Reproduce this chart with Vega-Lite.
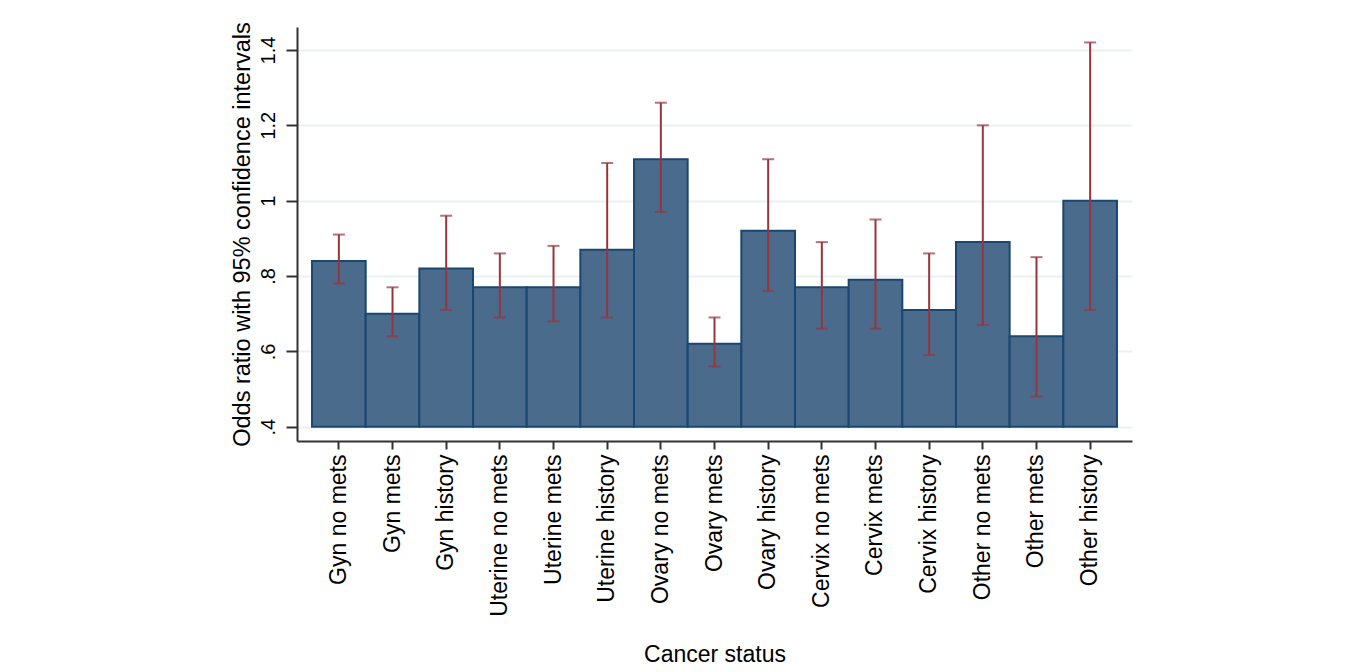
{
  "$schema": "https://vega.github.io/schema/vega-lite/v6.json",
  "width": 835,
  "height": 414,
  "autosize": "none",
  "padding": {"left": 297, "top": 27, "right": 225, "bottom": 231},
  "background": "white",
  "data": {
    "values": [
      {"status": "Gyn no mets", "or": 0.84, "lo": 0.78, "hi": 0.91},
      {"status": "Gyn mets", "or": 0.70, "lo": 0.64, "hi": 0.77},
      {"status": "Gyn history", "or": 0.82, "lo": 0.71, "hi": 0.96},
      {"status": "Uterine no mets", "or": 0.77, "lo": 0.69, "hi": 0.86},
      {"status": "Uterine mets", "or": 0.77, "lo": 0.68, "hi": 0.88},
      {"status": "Uterine history", "or": 0.87, "lo": 0.69, "hi": 1.10},
      {"status": "Ovary no mets", "or": 1.11, "lo": 0.97, "hi": 1.26},
      {"status": "Ovary mets", "or": 0.62, "lo": 0.56, "hi": 0.69},
      {"status": "Ovary history", "or": 0.92, "lo": 0.76, "hi": 1.11},
      {"status": "Cervix no mets", "or": 0.77, "lo": 0.66, "hi": 0.89},
      {"status": "Cervix mets", "or": 0.79, "lo": 0.66, "hi": 0.95},
      {"status": "Cervix history", "or": 0.71, "lo": 0.59, "hi": 0.86},
      {"status": "Other no mets", "or": 0.89, "lo": 0.67, "hi": 1.20},
      {"status": "Other mets", "or": 0.64, "lo": 0.48, "hi": 0.85},
      {"status": "Other history", "or": 1.00, "lo": 0.71, "hi": 1.42}
    ]
  },
  "encoding": {
    "x": {
      "field": "status",
      "type": "nominal",
      "sort": null,
      "title": "Cancer status",
      "scale": {"paddingInner": 0, "paddingOuter": 0.28},
      "axis": {
        "labelAngle": -90,
        "labelFontSize": 23,
        "labelPadding": 5,
        "tickSize": 8,
        "titlePadding": 27,
        "titleFontSize": 23
      }
    }
  },
  "layer": [
    {
      "mark": {"type": "bar", "fill": "#4a6b8c", "stroke": "#1a476f", "strokeWidth": 2},
      "encoding": {
        "y": {
          "field": "or",
          "type": "quantitative",
          "title": "Odds ratio with 95% confidence intervals",
          "scale": {"domain": [0.362, 1.461], "nice": false, "zero": false},
          "axis": {
            "values": [0.4, 0.6, 0.8, 1.0, 1.2, 1.4],
            "labelExpr": "datum.value < 1 ? substring(format(datum.value, '.1f'), 1) : format(datum.value, '.1~f')",
            "labelAngle": -90,
            "labelAlign": "center",
            "labelBaseline": "bottom",
            "labelFontSize": 20,
            "labelPadding": 8,
            "tickSize": 11,
            "grid": true,
            "gridColor": "#eaf1f3",
            "gridWidth": 2,
            "titleFontSize": 23.5,
            "titlePadding": 4
          }
        },
        "y2": {"datum": 0.4}
      }
    },
    {
      "mark": {"type": "rule", "color": "#9a343c", "strokeWidth": 2},
      "encoding": {
        "y": {"field": "lo", "type": "quantitative"},
        "y2": {"field": "hi"}
      }
    },
    {
      "mark": {"type": "tick", "color": "#9a343c", "thickness": 2, "size": 12, "orient": "horizontal"},
      "encoding": {
        "y": {"field": "lo", "type": "quantitative"}
      }
    },
    {
      "mark": {"type": "tick", "color": "#9a343c", "thickness": 2, "size": 12, "orient": "horizontal"},
      "encoding": {
        "y": {"field": "hi", "type": "quantitative"}
      }
    }
  ],
  "config": {
    "font": "Liberation Sans",
    "view": {"stroke": null},
    "axis": {
      "domainColor": "#333333",
      "domainWidth": 2,
      "tickColor": "#333333",
      "tickWidth": 2,
      "labelColor": "#000000",
      "titleColor": "#000000",
      "titleFontWeight": "normal",
      "labelFont": "Liberation Sans",
      "titleFont": "Liberation Sans"
    },
    "axisX": {"grid": false}
  }
}
